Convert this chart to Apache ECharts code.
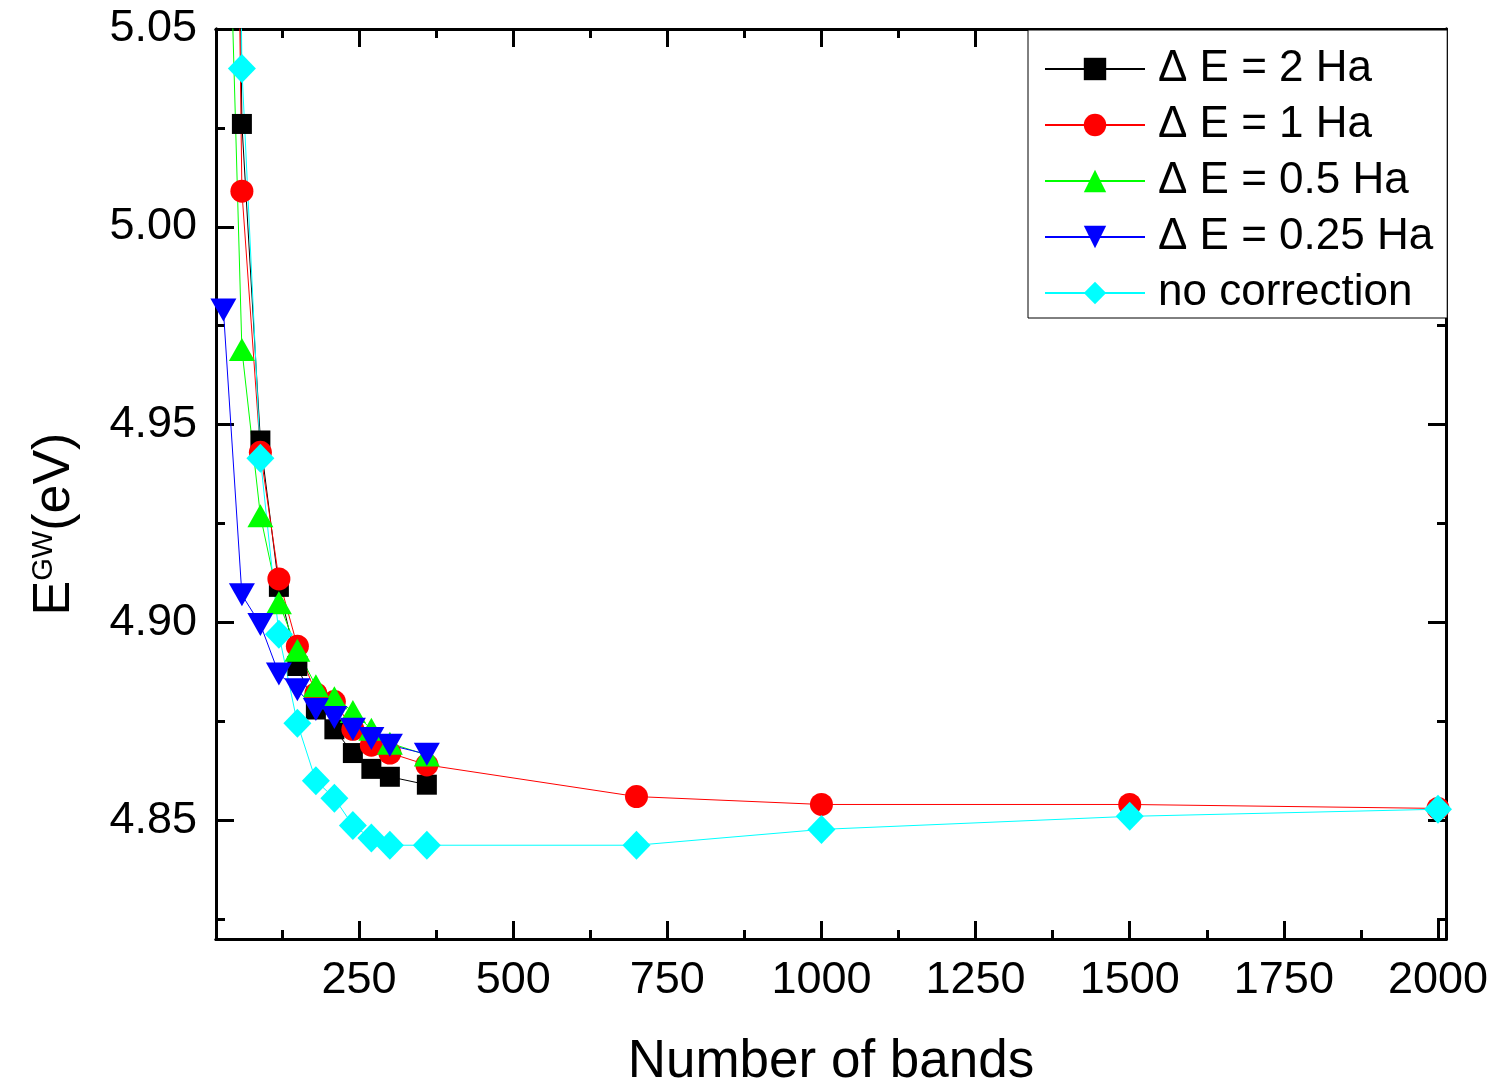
<!DOCTYPE html>
<html>
<head>
<meta charset="utf-8">
<script src="https://cdn.jsdelivr.net/npm/echarts@6/dist/echarts.min.js"></script>
<style>
html, body { margin: 0; padding: 0; background: #fff; }
#chart { width: 1497px; height: 1082px; }
</style>
</head>
<body>
<div id="chart"></div>
<script>
// number of bands (x)
var bandsShort = [30, 60, 90, 120, 150, 180, 210, 240, 270, 300, 360];
var bandsLong = [30, 60, 90, 120, 150, 180, 210, 240, 270, 300, 360, 700, 1000, 1500, 2000];

// E^GW (eV) per correction
var dE2 = [5.45, 5.026, 4.946, 4.909, 4.889, 4.878, 4.873, 4.867, 4.863, 4.861, 4.859];
var dE1 = [5.38, 5.009, 4.943, 4.911, 4.894, 4.882, 4.880, 4.873, 4.869, 4.867, 4.864, 4.856, 4.854, 4.854, 4.853];
var dE05 = [5.135, 4.969, 4.927, 4.905, 4.893, 4.884, 4.881, 4.8775, 4.873, 4.8695, 4.8665];
var dE025 = [4.979, 4.907, 4.8995, 4.887, 4.883, 4.878, 4.876, 4.873, 4.8707, 4.869, 4.8667];
var noCorr = [5.5, 5.040, 4.9415, 4.897, 4.8745, 4.860, 4.8556, 4.8487, 4.8455, 4.8437, 4.8437, 4.8437, 4.8477, 4.851, 4.8528];

var seriesNames = ['\u0394 E = 2 Ha', '\u0394 E = 1 Ha', '\u0394 E = 0.5 Ha', '\u0394 E = 0.25 Ha', 'no correction'];

// tick labels
var xMajor = [250, 500, 750, 1000, 1250, 1500, 1750, 2000];
var xMinor = [125, 375, 625, 875, 1125, 1375, 1625, 1875];
var yMajor = [4.85, 4.90, 4.95, 5.00, 5.05];
var yMinor = [4.825, 4.875, 4.925, 4.975, 5.025];

var FONT = 'Liberation Sans, Arial, sans-serif';
var X_MIN = 18, X_MAX = 2013, Y_MIN = 4.82, Y_MAX = 5.05;

function pairs(xs, ys) {
	var out = [];
	for (var i = 0; i < ys.length; i++) out.push([xs[i], ys[i]]);
	return out;
}

function makeAxis(kind, position, ticks, len, labels) {
	var ax = {
		type: 'value',
		position: position,
		min: kind === 'x' ? X_MIN : Y_MIN,
		max: kind === 'x' ? X_MAX : Y_MAX,
		axisLine: { show: true, onZero: false, lineStyle: { color: '#000', width: 3 } },
		axisTick: { show: true, inside: true, length: len, customValues: ticks, lineStyle: { color: '#000', width: 3 } },
		axisLabel: { show: false },
		splitLine: { show: false }
	};
	if (labels) {
		ax.axisLabel = {
			show: true,
			customValues: labels,
			color: '#000',
			fontFamily: FONT,
			fontSize: 45,
			margin: 19,
			formatter: kind === 'x' ? function(v) { return String(Math.round(v)); } : function(v) { return v.toFixed(2); }
		};
	}
	return ax;
}

var xAxes = [
	makeAxis('x', 'bottom', xMajor, 18, xMajor),
	makeAxis('x', 'bottom', xMinor, 9),
	makeAxis('x', 'top', xMajor, 18),
	makeAxis('x', 'top', xMinor, 9)
];
xAxes[0].name = 'Number of bands';
xAxes[0].nameLocation = 'middle';
xAxes[0].nameGap = 97;
xAxes[0].nameTextStyle = { color: '#000', fontFamily: FONT, fontSize: 53 };

var yAxes = [
	makeAxis('y', 'left', yMajor, 18, yMajor),
	makeAxis('y', 'left', yMinor, 9),
	makeAxis('y', 'right', yMajor, 18),
	makeAxis('y', 'right', yMinor, 9)
];

function line(name, data, color, symbol, size) {
	return {
		name: name,
		type: 'line',
		data: data,
		symbol: symbol,
		symbolSize: size,
		showAllSymbol: true,
		clip: true,
		lineStyle: { color: color, width: 1 },
		itemStyle: { color: color },
		emphasis: { disabled: true },
		animation: false
	};
}

var chart = echarts.init(document.getElementById('chart'));
chart.setOption({
	backgroundColor: '#fff',
	animation: false,
	grid: { left: 216, top: 29, right: 51, bottom: 143, outerBoundsMode: 'none', containLabel: false },
	xAxis: xAxes,
	yAxis: yAxes,
	legend: {
		orient: 'vertical',
		left: 1028,
		top: 30,
		itemWidth: 100,
		itemHeight: 28,
		itemGap: 12,
		padding: [17, 14, 3, 16],
		borderColor: '#000',
		borderWidth: 1,
		backgroundColor: '#fff',
		textStyle: { color: '#000', fontFamily: FONT, fontSize: 44, lineHeight: 44, padding: [0, 0, 0, 8] },
		data: seriesNames
	},
	graphic: [{
		type: 'text',
		x: 55,
		y: 524,
		rotation: Math.PI / 2,
		style: {
			text: '{a|E}{b|GW}{a|(eV)}',
			align: 'center',
			verticalAlign: 'middle',
			fill: '#000',
			rich: {
				a: { fontFamily: FONT, fontSize: 52, fill: '#000' },
				b: { fontFamily: FONT, fontSize: 29, fill: '#000', verticalAlign: 'top' }
			}
		}
	}],
	series: [
		line(seriesNames[0], pairs(bandsShort, dE2), '#000000', 'rect', [20, 20]),
		line(seriesNames[1], pairs(bandsLong, dE1), '#ff0000', 'circle', 23),
		line(seriesNames[2], pairs(bandsShort, dE05), '#00ff00', 'triangle', [26, 23]),
		line(seriesNames[3], pairs(bandsShort, dE025), '#0000ff', 'path://M0,0 L2,0 L1,1.8 Z', [26, 23]),
		line(seriesNames[4], pairs(bandsLong, noCorr), '#00ffff', 'diamond', [28, 29])
	]
});
</script>
</body>
</html>
